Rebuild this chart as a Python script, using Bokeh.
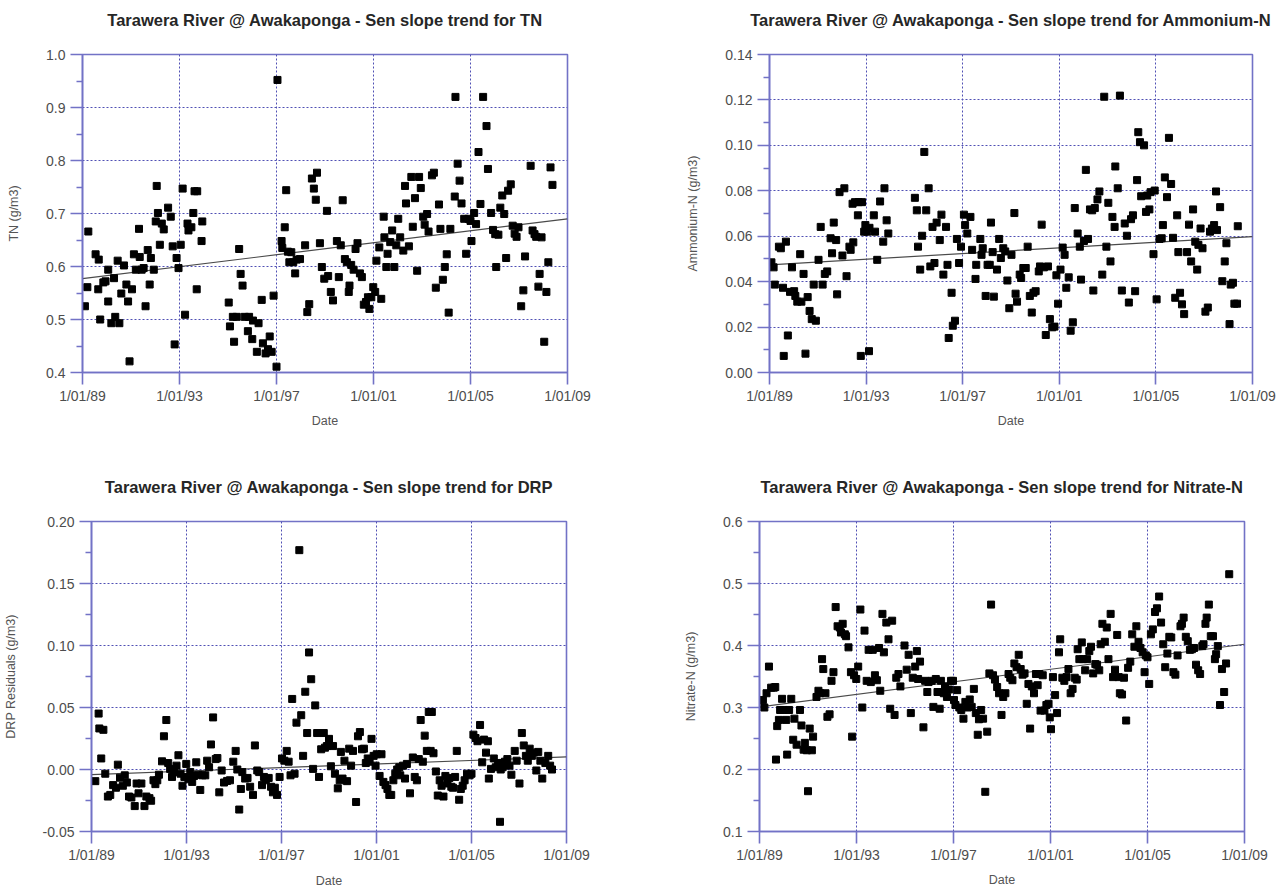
from bokeh.plotting import figure
from bokeh.layouts import column, row
from bokeh.models import Range1d, FixedTicker, PrintfTickFormatter, Title
from bokeh.embed import file_html
from bokeh.resources import INLINE

# ---------------- data (decimal year, concentration) ----------------
x_tick_years = [1989, 1993, 1997, 2001, 2005, 2009]
x_tick_labels = ["1/01/89", "1/01/93", "1/01/97", "1/01/01", "1/01/05", "1/01/09"]

tn_year = [
    1989.10, 1989.24, 1989.20, 1989.54, 1989.67, 1989.65, 1989.73, 1989.86, 1989.95, 1990.06,
    1990.06, 1990.19, 1990.30, 1990.35, 1990.45, 1990.52, 1990.60, 1990.71, 1990.81, 1990.88,
    1990.94, 1991.04, 1991.12, 1991.20, 1991.33, 1991.36, 1991.44, 1991.52, 1991.60, 1991.69,
    1991.77, 1991.82, 1991.94, 1992.02, 1992.06, 1992.11, 1992.19, 1992.27, 1992.35, 1992.53,
    1992.64, 1992.72, 1992.80, 1992.88, 1992.96, 1993.05, 1993.13, 1993.23, 1993.33, 1993.37,
    1993.49, 1993.57, 1993.62, 1993.73, 1993.71, 1993.91, 1993.94,
    1995.03, 1995.08, 1995.20, 1995.25, 1995.36, 1995.46, 1995.52, 1995.60, 1995.69, 1995.82,
    1995.87, 1996.00, 1996.03, 1996.19, 1996.26, 1996.39, 1996.44, 1996.55, 1996.65, 1996.72,
    1996.80, 1996.88, 1997.00, 1997.04, 1997.21, 1997.24, 1997.34, 1997.40, 1997.47, 1997.53,
    1997.61, 1997.69, 1997.77, 1997.83, 1997.97,
    1998.18, 1998.27, 1998.35, 1998.46, 1998.54, 1998.62, 1998.67, 1998.79, 1998.87, 1998.97,
    1999.08, 1999.13, 1999.24, 1999.33, 1999.49, 1999.57, 1999.65, 1999.73, 1999.82, 1999.90,
    1999.98, 2000.01, 2000.08, 2000.18, 2000.26, 2000.34, 2000.44, 2000.52, 2000.60, 2000.69,
    2000.77, 2000.83, 2000.91, 2000.99,
    2001.07, 2001.12, 2001.24, 2001.32, 2001.42, 2001.45, 2001.53, 2001.58, 2001.69, 2001.77,
    2001.86, 2001.94, 2002.02, 2002.10, 2002.23, 2002.30, 2002.34, 2002.46, 2002.56, 2002.62,
    2002.71, 2002.80, 2002.88, 2002.95, 2003.05, 2003.11, 2003.21, 2003.27, 2003.41, 2003.49,
    2003.57, 2003.70, 2003.76, 2003.86, 2003.94, 2004.02, 2004.10, 2004.17, 2004.35, 2004.38,
    2004.47, 2004.55, 2004.63, 2004.74, 2004.82, 2004.92,
    2005.00, 2005.04, 2005.15, 2005.23, 2005.33, 2005.41, 2005.52, 2005.66, 2005.72, 2005.85,
    2005.93, 2006.02, 2006.06, 2006.15, 2006.23, 2006.31, 2006.39, 2006.47, 2006.55, 2006.66,
    2006.74, 2006.82, 2006.90, 2006.98, 2007.09, 2007.18, 2007.25, 2007.48, 2007.56, 2007.64,
    2007.71, 2007.80, 2007.85, 2007.93, 2008.04, 2008.13, 2008.21, 2008.30, 2008.38,
]
tn_value = [
    0.525, 0.666, 0.561, 0.623, 0.613, 0.557, 0.500, 0.570, 0.572, 0.594,
    0.534, 0.493, 0.578, 0.505, 0.611, 0.493, 0.549, 0.602, 0.566, 0.534,
    0.421, 0.557, 0.623, 0.594, 0.671, 0.618, 0.594, 0.597, 0.525, 0.631,
    0.566, 0.616, 0.594, 0.685, 0.752, 0.701, 0.641, 0.681, 0.670, 0.711,
    0.694, 0.638, 0.453, 0.616, 0.597, 0.641, 0.747, 0.509, 0.681, 0.668,
    0.674, 0.701, 0.742, 0.742, 0.557, 0.648, 0.685,
    0.532, 0.487, 0.505, 0.458, 0.505, 0.633, 0.586, 0.564, 0.505, 0.478,
    0.505, 0.463, 0.498, 0.439, 0.493, 0.537, 0.455, 0.436, 0.444, 0.468,
    0.439, 0.545, 0.411, 0.952, 0.648, 0.635, 0.674, 0.744, 0.628, 0.608,
    0.627, 0.608, 0.587, 0.613, 0.614,
    0.640, 0.514, 0.529, 0.766, 0.747, 0.726, 0.777, 0.644, 0.599, 0.577,
    0.705, 0.582, 0.552, 0.536, 0.648, 0.580, 0.640, 0.725, 0.614, 0.608,
    0.552, 0.564, 0.603, 0.594, 0.633, 0.644, 0.587, 0.580, 0.528, 0.533,
    0.542, 0.520, 0.542, 0.561,
    0.552, 0.611, 0.636, 0.539, 0.694, 0.655, 0.599, 0.624, 0.646, 0.668,
    0.599, 0.640, 0.690, 0.655, 0.630, 0.752, 0.719, 0.638, 0.769, 0.675,
    0.729, 0.592, 0.769, 0.748, 0.694, 0.679, 0.699, 0.666, 0.772, 0.777,
    0.560, 0.717, 0.671, 0.575, 0.599, 0.623, 0.513, 0.671, 0.732, 0.920,
    0.794, 0.762, 0.719, 0.690, 0.624, 0.690,
    0.686, 0.648, 0.701, 0.680, 0.816, 0.718, 0.920, 0.865, 0.784, 0.701,
    0.669, 0.661, 0.599, 0.660, 0.711, 0.734, 0.699, 0.616, 0.743, 0.755,
    0.677, 0.662, 0.656, 0.674, 0.525, 0.555, 0.619, 0.790, 0.668, 0.661,
    0.656, 0.562, 0.586, 0.655, 0.458, 0.552, 0.608, 0.787, 0.754,
]
tn_trend_year = [1989.0, 2009.0]
tn_trend_value = [0.577, 0.690]

nh4_year = [
    1989.08, 1989.17, 1989.22, 1989.39, 1989.47, 1989.56, 1989.59, 1989.68, 1989.76, 1989.93,
    1989.85, 1990.02, 1990.07, 1990.15, 1990.27, 1990.32, 1990.41, 1990.49, 1990.58, 1990.66,
    1990.75, 1990.83, 1990.92, 1991.03, 1991.12, 1991.20, 1991.29, 1991.39, 1991.53, 1991.59,
    1991.66, 1991.76, 1991.80, 1991.90, 1992.02, 1992.10, 1992.19, 1992.31, 1992.36, 1992.47,
    1992.44, 1992.54, 1992.66, 1992.69, 1992.78, 1992.83, 1992.92, 1992.97, 1993.05, 1993.12,
    1993.14, 1993.32, 1993.37, 1993.46, 1993.58, 1993.71, 1993.76, 1993.85, 1993.92,
    1995.02, 1995.10, 1995.15, 1995.24, 1995.32, 1995.41, 1995.49, 1995.59, 1995.66, 1995.75,
    1995.83, 1995.92, 1996.05, 1996.12, 1996.20, 1996.31, 1996.37, 1996.42, 1996.54, 1996.59,
    1996.68, 1996.76, 1996.85, 1996.93,
    1997.05, 1997.10, 1997.19, 1997.32, 1997.39, 1997.53, 1997.56, 1997.73, 1997.78, 1997.83,
    1997.95, 1998.03, 1998.12, 1998.17, 1998.24, 1998.29, 1998.42, 1998.51, 1998.58, 1998.68,
    1998.76, 1998.85, 1998.93, 1999.02, 1999.14, 1999.19, 1999.25, 1999.36, 1999.42, 1999.51,
    1999.61, 1999.69, 1999.78, 1999.86, 1999.93, 2000.02, 2000.15, 2000.20, 2000.27, 2000.36,
    2000.44, 2000.53, 2000.61, 2000.71, 2000.80, 2000.88, 2000.95,
    2001.05, 2001.14, 2001.22, 2001.29, 2001.39, 2001.47, 2001.56, 2001.64, 2001.76, 2001.85,
    2001.90, 2002.02, 2002.10, 2002.19, 2002.27, 2002.36, 2002.41, 2002.47, 2002.58, 2002.66,
    2002.78, 2002.86, 2002.95, 2003.03, 2003.12, 2003.20, 2003.29, 2003.32, 2003.42, 2003.51,
    2003.59, 2003.71, 2003.80, 2003.88, 2003.97, 2004.05, 2004.14, 2004.22, 2004.27, 2004.34,
    2004.39, 2004.51, 2004.59, 2004.64, 2004.73, 2004.78, 2004.90, 2004.95,
    2005.03, 2005.15, 2005.24, 2005.29, 2005.37, 2005.46, 2005.54, 2005.63, 2005.71, 2005.80,
    2005.88, 2005.93, 2006.00, 2006.08, 2006.17, 2006.29, 2006.37, 2006.46, 2006.54, 2006.63,
    2006.71, 2006.76, 2006.85, 2006.93, 2007.05, 2007.15, 2007.24, 2007.32, 2007.41, 2007.49,
    2007.53, 2007.66, 2007.75, 2007.85, 2007.92, 2008.05, 2008.10, 2008.19, 2008.25, 2008.36,
    2008.39,
]
nh4_value = [
    0.0485, 0.0463, 0.0387, 0.0554, 0.0547, 0.0373, 0.0073, 0.0576, 0.0163, 0.0463,
    0.0355, 0.0358, 0.0337, 0.0312, 0.0521, 0.0312, 0.0434, 0.0083, 0.0332, 0.0271,
    0.0235, 0.0387, 0.0228, 0.0496, 0.0641, 0.0387, 0.0434, 0.0445, 0.0591, 0.0525,
    0.0660, 0.0583, 0.0344, 0.0794, 0.0515, 0.0811, 0.0424, 0.0554, 0.0540, 0.0573,
    0.0743, 0.0750, 0.0692, 0.0750, 0.0073, 0.0750, 0.0620, 0.0649, 0.0620, 0.0094,
    0.0637, 0.0692, 0.0620, 0.0496, 0.0753, 0.0576, 0.0811, 0.0670, 0.0612,
    0.0769, 0.0714, 0.0554, 0.0453, 0.0602, 0.0971, 0.0714, 0.0811, 0.0467, 0.0641,
    0.0482, 0.0660, 0.0583, 0.0695, 0.0431, 0.0641, 0.0474, 0.0152, 0.0351, 0.0206,
    0.0228, 0.0588, 0.0482, 0.0554,
    0.0695, 0.0649, 0.0612, 0.0685, 0.0540, 0.0412, 0.0474, 0.0588, 0.0518, 0.0547,
    0.0337, 0.0474, 0.0474, 0.0660, 0.0530, 0.0334, 0.0453, 0.0588, 0.0504, 0.0547,
    0.0533, 0.0405, 0.0283, 0.0518, 0.0702, 0.0347, 0.0312, 0.0431, 0.0416, 0.0460,
    0.0460, 0.0554, 0.0337, 0.0264, 0.0351, 0.0358, 0.0445, 0.0467, 0.0651, 0.0463,
    0.0165, 0.0467, 0.0235, 0.0199, 0.0202, 0.0428, 0.0303,
    0.0453, 0.0550, 0.0518, 0.0373, 0.0419, 0.0184, 0.0221, 0.0724, 0.0612, 0.0554,
    0.0409, 0.0579, 0.0892, 0.0588, 0.0718, 0.0714, 0.0361, 0.0724, 0.0762, 0.0797,
    0.0431, 0.1214, 0.0554, 0.0747, 0.0489, 0.0685, 0.0641, 0.0907, 0.0811, 0.1219,
    0.0361, 0.0656, 0.0602, 0.0308, 0.0675, 0.0692, 0.0358, 0.0847, 0.1058, 0.1014,
    0.0776, 0.1000, 0.0707, 0.0779, 0.0718, 0.0794, 0.0521, 0.0801,
    0.0322, 0.0588, 0.0591, 0.0649, 0.0859, 0.0772, 0.1033, 0.0830, 0.0593, 0.0329,
    0.0692, 0.0530, 0.0351, 0.0300, 0.0257, 0.0530, 0.0651, 0.0489, 0.0718, 0.0576,
    0.0453, 0.0562, 0.0634, 0.0547, 0.0268, 0.0286, 0.0620, 0.0634, 0.0649, 0.0797,
    0.0627, 0.0728, 0.0402, 0.0489, 0.0569, 0.0213, 0.0387, 0.0395, 0.0303, 0.0303,
    0.0644,
]
nh4_trend_year = [1989.0, 2009.0]
nh4_trend_value = [0.0474, 0.0598]

drp_year = [
    1989.16, 1989.30, 1989.33, 1989.41, 1989.50, 1989.58, 1989.69, 1989.79, 1989.91, 1990.03,
    1990.11, 1990.20, 1990.32, 1990.40, 1990.49, 1990.58, 1990.68, 1990.82, 1990.90, 1990.98,
    1991.10, 1991.23, 1991.31, 1991.44, 1991.51, 1991.61, 1991.69, 1991.77, 1991.84, 1991.97,
    1992.05, 1992.15, 1992.23, 1992.31, 1992.39, 1992.47, 1992.58, 1992.66, 1992.75, 1992.83,
    1992.91, 1992.99,
    1993.08, 1993.16, 1993.24, 1993.32, 1993.41, 1993.49, 1993.58, 1993.67, 1993.79, 1993.87,
    1993.95, 1994.03, 1994.12, 1994.23, 1994.30, 1994.38, 1994.48, 1994.58, 1994.71, 1994.83,
    1994.97, 1995.07, 1995.14, 1995.22, 1995.29, 1995.35, 1995.47, 1995.57, 1995.68, 1995.80,
    1995.88, 1995.98, 1996.06, 1996.18, 1996.26, 1996.34, 1996.46, 1996.56, 1996.64, 1996.72,
    1996.81, 1996.92,
    1997.02, 1997.12, 1997.22, 1997.30, 1997.38, 1997.45, 1997.55, 1997.63, 1997.75, 1997.83,
    1997.91, 1998.00, 1998.08, 1998.16, 1998.25, 1998.33, 1998.42, 1998.50, 1998.58, 1998.67,
    1998.78, 1998.83, 1998.91, 1999.00, 1999.08, 1999.17, 1999.25, 1999.37, 1999.45, 1999.50,
    1999.57, 1999.65, 1999.76, 1999.85, 1999.93, 2000.01, 2000.14, 2000.22, 2000.30, 2000.39,
    2000.47, 2000.55, 2000.63, 2000.71, 2000.79, 2000.88, 2000.96,
    2001.01, 2001.13, 2001.21, 2001.29, 2001.38, 2001.46, 2001.54, 2001.62, 2001.71, 2001.79,
    2001.87, 2001.96, 2002.00, 2002.12, 2002.20, 2002.28, 2002.41, 2002.53, 2002.61, 2002.70,
    2002.78, 2002.86, 2002.95, 2003.03, 2003.12, 2003.20, 2003.28, 2003.33, 2003.40, 2003.50,
    2003.58, 2003.66, 2003.74, 2003.82, 2003.90, 2003.99, 2004.07, 2004.15, 2004.22, 2004.31,
    2004.38, 2004.48, 2004.55, 2004.63, 2004.71, 2004.81, 2004.92,
    2005.00, 2005.08, 2005.17, 2005.25, 2005.36, 2005.45, 2005.53, 2005.61, 2005.69, 2005.73,
    2005.82, 2005.94, 2006.02, 2006.12, 2006.20, 2006.23, 2006.31, 2006.41, 2006.51, 2006.60,
    2006.68, 2006.82, 2006.90, 2007.02, 2007.12, 2007.20, 2007.29, 2007.37, 2007.45, 2007.54,
    2007.62, 2007.73, 2007.81, 2007.90, 2007.98, 2008.11, 2008.23, 2008.31, 2008.39,
]
drp_value = [
    -0.0094, 0.0451, 0.0331, 0.0089, 0.0320, -0.0034, -0.0218, -0.0205, -0.0126, -0.0147,
    0.0039, -0.0066, -0.0131, -0.0047, -0.0105, -0.0218, -0.0226, -0.0295, -0.0113, -0.0192,
    -0.0113, -0.0295, -0.0218, -0.0231, -0.0252, -0.0087, -0.0118, -0.0087, -0.0042, 0.0066,
    0.0268, 0.0399, 0.0052, 0.0005, -0.0060, -0.0021, 0.0031, 0.0115, -0.0034, -0.0131,
    -0.0060, 0.0045,
    -0.0079, -0.0021, -0.0100, -0.0052, 0.0058, -0.0042, -0.0165, -0.0047, -0.0047, 0.0071,
    0.0018, 0.0202, 0.0420, 0.0084, 0.0092, -0.0184, -0.0008, -0.0105, -0.0092, -0.0087,
    0.0063, 0.0150, 0.0000, -0.0323, -0.0157, -0.0021, -0.0073, -0.0068, -0.0139, -0.0205,
    0.0194, -0.0008, -0.0021, -0.0126, -0.0060, -0.0087, -0.0068, -0.0139, -0.0184, -0.0147,
    -0.0205, -0.0060,
    0.0089, 0.0071, 0.0150, 0.0063, -0.0047, 0.0569, -0.0034, 0.0378, 0.1769, 0.0438,
    0.0110, 0.0627, 0.0294, 0.0944, 0.0728, 0.0005, 0.0517, 0.0294, -0.0060, 0.0163,
    0.0294, 0.0176, 0.0189, 0.0247, 0.0026, 0.0189, -0.0034, -0.0152, -0.0087, 0.0142,
    -0.0073, 0.0071, -0.0094, 0.0168, 0.0031, 0.0150, -0.0262, 0.0268, 0.0302, 0.0163,
    0.0168, 0.0052, 0.0089, 0.0063, 0.0247, 0.0110, 0.0031,
    0.0123, -0.0052, 0.0123, -0.0100, -0.0126, -0.0157, -0.0205, -0.0205, -0.0087, -0.0034,
    0.0000, 0.0018, -0.0047, 0.0031, -0.0073, 0.0045, -0.0192, 0.0097, -0.0060, -0.0087,
    0.0084, 0.0399, 0.0063, 0.0273, 0.0150, 0.0464, 0.0150, 0.0464, 0.0131, -0.0016,
    -0.0210, -0.0087, -0.0131, -0.0218, -0.0052, -0.0113, -0.0068, -0.0139, -0.0147, -0.0060,
    0.0150, -0.0244, -0.0157, -0.0131, -0.0087, -0.0034, -0.0047,
    -0.0034, 0.0281, 0.0254, 0.0228, 0.0359, 0.0058, 0.0241, 0.0136, 0.0228, -0.0073,
    0.0005, 0.0089, 0.0018, 0.0052, -0.0422, 0.0000, 0.0018, 0.0063, 0.0084, 0.0031,
    -0.0042, 0.0150, 0.0071, -0.0113, 0.0294, 0.0194, 0.0110, 0.0071, 0.0168, 0.0110,
    0.0136, -0.0008, 0.0142, 0.0071, -0.0073, 0.0052, 0.0110, 0.0031, 0.0000,
]
drp_trend_year = [1989.0, 2009.0]
drp_trend_value = [-0.0042, 0.0102]

no3_year = [
    1989.14, 1989.20, 1989.29, 1989.39, 1989.48, 1989.59, 1989.65, 1989.68, 1989.73, 1989.80,
    1989.85, 1989.93, 1989.99, 1990.10, 1990.14, 1990.22, 1990.31, 1990.39, 1990.44, 1990.53,
    1990.67, 1990.73, 1990.82, 1990.87, 1990.95, 1991.00, 1991.07, 1991.16, 1991.21, 1991.35,
    1991.43, 1991.50, 1991.58, 1991.63, 1991.72, 1991.80, 1991.89, 1991.97, 1992.05, 1992.14,
    1992.22, 1992.31, 1992.36, 1992.43, 1992.52, 1992.57, 1992.67, 1992.77, 1992.82, 1992.90,
    1992.99,
    1993.07, 1993.16, 1993.24, 1993.33, 1993.42, 1993.50, 1993.59, 1993.67, 1993.76, 1993.84,
    1993.93, 1993.98, 1994.07, 1994.13, 1994.23, 1994.32, 1994.39, 1994.47, 1994.57, 1994.64,
    1994.73, 1994.81, 1994.98, 1995.07, 1995.15, 1995.24, 1995.32, 1995.42, 1995.49, 1995.54,
    1995.62, 1995.76, 1995.83, 1995.92, 1995.97, 1996.10, 1996.17, 1996.27, 1996.34, 1996.43,
    1996.48, 1996.60, 1996.65, 1996.73, 1996.82, 1996.90, 1996.98,
    1997.02, 1997.08, 1997.15, 1997.24, 1997.32, 1997.41, 1997.49, 1997.58, 1997.67, 1997.75,
    1997.84, 1997.92, 1998.00, 1998.05, 1998.14, 1998.22, 1998.31, 1998.39, 1998.48, 1998.55,
    1998.63, 1998.71, 1998.80, 1998.88, 1998.98, 1999.05, 1999.14, 1999.27, 1999.34, 1999.43,
    1999.51, 1999.60, 1999.69, 1999.77, 1999.85, 1999.93, 2000.02, 2000.09, 2000.16, 2000.23,
    2000.32, 2000.40, 2000.47, 2000.54, 2000.59, 2000.68, 2000.75, 2000.83, 2000.92, 2000.97,
    2001.02, 2001.10, 2001.19, 2001.27, 2001.35, 2001.40, 2001.49, 2001.57, 2001.66, 2001.74,
    2001.83, 2001.91, 2002.00, 2002.08, 2002.12, 2002.19, 2002.29, 2002.34, 2002.43, 2002.51,
    2002.60, 2002.67, 2002.76, 2002.85, 2002.92, 2003.01, 2003.07, 2003.14, 2003.24, 2003.32,
    2003.39, 2003.48, 2003.58, 2003.66, 2003.75, 2003.81, 2003.86, 2003.95, 2004.03, 2004.12,
    2004.20, 2004.29, 2004.37, 2004.46, 2004.54, 2004.63, 2004.71, 2004.80, 2004.88, 2004.93,
    2005.00, 2005.07, 2005.14, 2005.22, 2005.31, 2005.39, 2005.48, 2005.56, 2005.65, 2005.73,
    2005.82, 2005.90, 2005.98, 2006.07, 2006.15, 2006.24, 2006.36, 2006.42, 2006.49, 2006.58,
    2006.66, 2006.75, 2006.83, 2006.92, 2007.00, 2007.09, 2007.17, 2007.26, 2007.31, 2007.39,
    2007.44, 2007.53, 2007.61, 2007.70, 2007.78, 2007.83, 2007.90, 2007.99, 2008.07, 2008.16,
    2008.24, 2008.37,
]
no3_value = [
    0.312, 0.300, 0.323, 0.366, 0.332, 0.332, 0.333, 0.216, 0.270, 0.280,
    0.296, 0.314, 0.296, 0.280, 0.224, 0.296, 0.314, 0.248, 0.282, 0.240,
    0.296, 0.271, 0.232, 0.243, 0.231, 0.165, 0.266, 0.231, 0.253, 0.317,
    0.327, 0.323, 0.378, 0.362, 0.323, 0.285, 0.289, 0.343, 0.357, 0.462,
    0.431, 0.429, 0.421, 0.435, 0.418, 0.415, 0.397, 0.357, 0.253, 0.352,
    0.346,
    0.366, 0.458, 0.300, 0.424, 0.343, 0.393, 0.341, 0.393, 0.352, 0.344,
    0.396, 0.327, 0.451, 0.389, 0.437, 0.410, 0.298, 0.440, 0.288, 0.348,
    0.354, 0.334, 0.400, 0.361, 0.385, 0.291, 0.348, 0.366, 0.391, 0.346,
    0.374, 0.268, 0.343, 0.325, 0.341, 0.343, 0.301, 0.346, 0.325, 0.298,
    0.343, 0.323, 0.334, 0.317, 0.329, 0.343, 0.343,
    0.312, 0.304, 0.328, 0.300, 0.296, 0.282, 0.309, 0.300, 0.313, 0.301,
    0.330, 0.291, 0.256, 0.281, 0.296, 0.282, 0.164, 0.261, 0.355, 0.466,
    0.352, 0.345, 0.333, 0.323, 0.288, 0.317, 0.323, 0.354, 0.348, 0.344,
    0.371, 0.365, 0.385, 0.362, 0.353, 0.355, 0.306, 0.338, 0.266, 0.334,
    0.323, 0.354, 0.336, 0.354, 0.295, 0.352, 0.295, 0.304, 0.306, 0.284,
    0.265, 0.349, 0.320, 0.291, 0.389, 0.410, 0.348, 0.343, 0.349, 0.362,
    0.323, 0.330, 0.348, 0.345, 0.394, 0.378, 0.405, 0.378, 0.360, 0.378,
    0.391, 0.398, 0.355, 0.370, 0.369, 0.360, 0.402, 0.435, 0.406, 0.429,
    0.378, 0.451, 0.349, 0.361, 0.417, 0.349, 0.323, 0.321, 0.348, 0.279,
    0.364, 0.374, 0.418, 0.398, 0.431, 0.406, 0.396, 0.389, 0.357, 0.384,
    0.381, 0.338, 0.418, 0.426, 0.454, 0.460, 0.479, 0.437, 0.402, 0.365,
    0.387, 0.414, 0.413, 0.357, 0.353, 0.384, 0.431, 0.435, 0.445, 0.414,
    0.407, 0.393, 0.394, 0.396, 0.369, 0.360, 0.354, 0.399, 0.402, 0.435,
    0.445, 0.466, 0.415, 0.415, 0.378, 0.386, 0.399, 0.304, 0.362, 0.325,
    0.371, 0.515,
]
no3_trend_year = [1989.0, 2009.0]
no3_trend_value = [0.301, 0.402]

# ---------------- styling ----------------
AXIS_BLUE = "#7272c6"
GRID_BLUE = "#5050b4"
FONT = "Liberation Sans"


def make_panel(title, ylabel, years, values, t_years, t_values, y_ticks, y_minor, y_fmt,
               width, height, left, right, top, bottom, lab_standoff, date_standoff):
    p = figure(width=width, height=height, output_backend="svg", toolbar_location=None,
               x_range=Range1d(x_tick_years[0], x_tick_years[-1]),
               y_range=Range1d(y_ticks[0], y_ticks[-1]),
               min_border_left=left, min_border_right=right,
               min_border_top=top, min_border_bottom=bottom,
               background_fill_color="white", border_fill_color="white")
    # built-in title left empty; a thin spacer sits next to the frame, the real title above it
    p.title.text = ""
    p.add_layout(Title(text=" ", text_font_size="1px", standoff=23), "above")
    p.add_layout(Title(text=title, align="center", standoff=0, text_font=FONT,
                       text_font_size="16.5px", text_font_style="bold",
                       text_color="#262626"), "above")

    p.outline_line_color = AXIS_BLUE
    p.outline_line_width = 1.6

    p.xaxis.ticker = FixedTicker(ticks=x_tick_years, minor_ticks=[])
    p.xaxis.major_label_overrides = {y: lab for y, lab in zip(x_tick_years, x_tick_labels)}
    p.yaxis.ticker = FixedTicker(ticks=y_ticks, minor_ticks=y_minor)
    p.yaxis.formatter = PrintfTickFormatter(format=y_fmt)

    for ax in (p.xaxis[0], p.yaxis[0]):
        ax.axis_line_color = AXIS_BLUE
        ax.axis_line_width = 1.6
        ax.major_tick_line_color = AXIS_BLUE
        ax.major_tick_line_width = 1.6
        ax.minor_tick_line_color = AXIS_BLUE
        ax.minor_tick_line_width = 1.6
        ax.major_tick_out = 12
        ax.major_tick_in = 0
        ax.minor_tick_in = 0
        ax.major_label_text_font = FONT
        ax.major_label_text_font_size = "14px"
        ax.major_label_text_color = "#4d4d4d"
        ax.major_label_text_line_height = 1.0
        ax.axis_label_text_font = FONT
        ax.axis_label_text_font_size = "12.5px"
        ax.axis_label_text_font_style = "normal"
        ax.axis_label_text_color = "#555555"
        ax.axis_label_text_line_height = 1.0
    p.xaxis.minor_tick_out = 0
    p.yaxis.minor_tick_out = 6
    p.xaxis.major_label_standoff = lab_standoff
    p.yaxis.major_label_standoff = 5
    p.xaxis.axis_label = "Date"
    p.xaxis.axis_label_standoff = date_standoff
    p.yaxis.axis_label = ylabel
    p.yaxis.axis_label_standoff = 22

    for g in (p.xgrid[0], p.ygrid[0]):
        g.grid_line_color = GRID_BLUE
        g.grid_line_dash = "2 2"
        g.grid_line_width = 1

    p.line(t_years, t_values, line_color="#4a4a4a", line_width=1.2)
    p.scatter(years, values, marker="square", size=7, fill_color="black", line_color="black")
    return p


p1 = make_panel("Tarawera River @ Awakaponga - Sen slope trend for TN", "TN (g/m3)",
                tn_year, tn_value, tn_trend_year, tn_trend_value,
                [0.4, 0.5, 0.6, 0.7, 0.8, 0.9, 1.0],
                [0.45, 0.55, 0.65, 0.75, 0.85, 0.95], "%.1f",
                640, 460, 82, 73, 54, 88, 3, 7)
p2 = make_panel("Tarawera River @ Awakaponga - Sen slope trend for Ammonium-N", "Ammonium-N (g/m3)",
                nh4_year, nh4_value, nh4_trend_year, nh4_trend_value,
                [0.0, 0.02, 0.04, 0.06, 0.08, 0.10, 0.12, 0.14],
                [0.01, 0.03, 0.05, 0.07, 0.09, 0.11, 0.13], "%.2f",
                640, 460, 129, 28, 54, 86, 3, 7)
p3 = make_panel("Tarawera River @ Awakaponga - Sen slope trend for DRP", "DRP Residuals (g/m3)",
                drp_year, drp_value, drp_trend_year, drp_trend_value,
                [-0.05, 0.0, 0.05, 0.10, 0.15, 0.20],
                [-0.025, 0.025, 0.075, 0.125, 0.175], "%.2f",
                640, 430, 88, 74, 61, 53, 3, 8)
p4 = make_panel("Tarawera River @ Awakaponga - Sen slope trend for Nitrate-N", "Nitrate-N (g/m3)",
                no3_year, no3_value, no3_trend_year, no3_trend_value,
                [0.1, 0.2, 0.3, 0.4, 0.5, 0.6],
                [0.15, 0.25, 0.35, 0.45, 0.55], "%.1f",
                640, 430, 119, 36, 60, 57, 3, 7)

layout = column(row(p1, p2), row(p3, p4))
open("out.html", "w").write(file_html(layout, INLINE))
